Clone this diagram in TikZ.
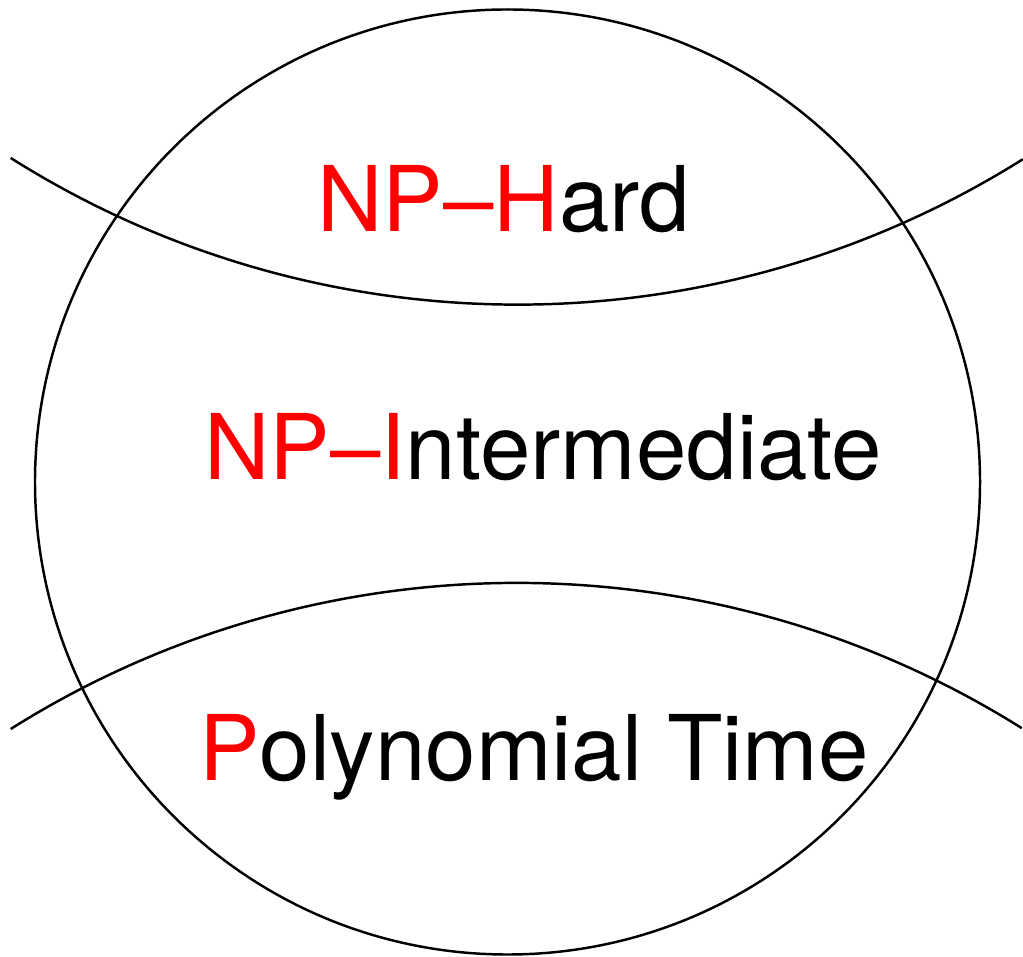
\documentclass[tikz,border=0pt]{standalone}
\usepackage{fontspec}
\setmainfont{TeX Gyre Heros}
\begin{document}
\begin{tikzpicture}[line width=0.7pt,
  classlbl/.style={anchor=base west, inner sep=0pt, font=\fontsize{25.8}{30}\selectfont}]
  \useasboundingbox (0,0) rectangle (10.23,9.56);
  % NP set
  \coordinate (np) at (5.075,4.74);
  \draw (np) circle (4.725);
  % Boundaries
  \draw (0.107,7.98) arc (237.74:302.12:9.5);
  \draw (0.107,2.27) arc (122.2:57.9:9.5);
  % Classes
  \node[classlbl] (hard) at (3.16,7.24) {\textcolor{red}{NP–H}ard};
  \node[classlbl] (inter) at (2.03,4.76) {\textcolor{red}{NP–I}ntermediate};
  \node[classlbl] (poly) at (1.98,1.76) {\textcolor{red}{P}olynomial Time};
\end{tikzpicture}
\end{document}
